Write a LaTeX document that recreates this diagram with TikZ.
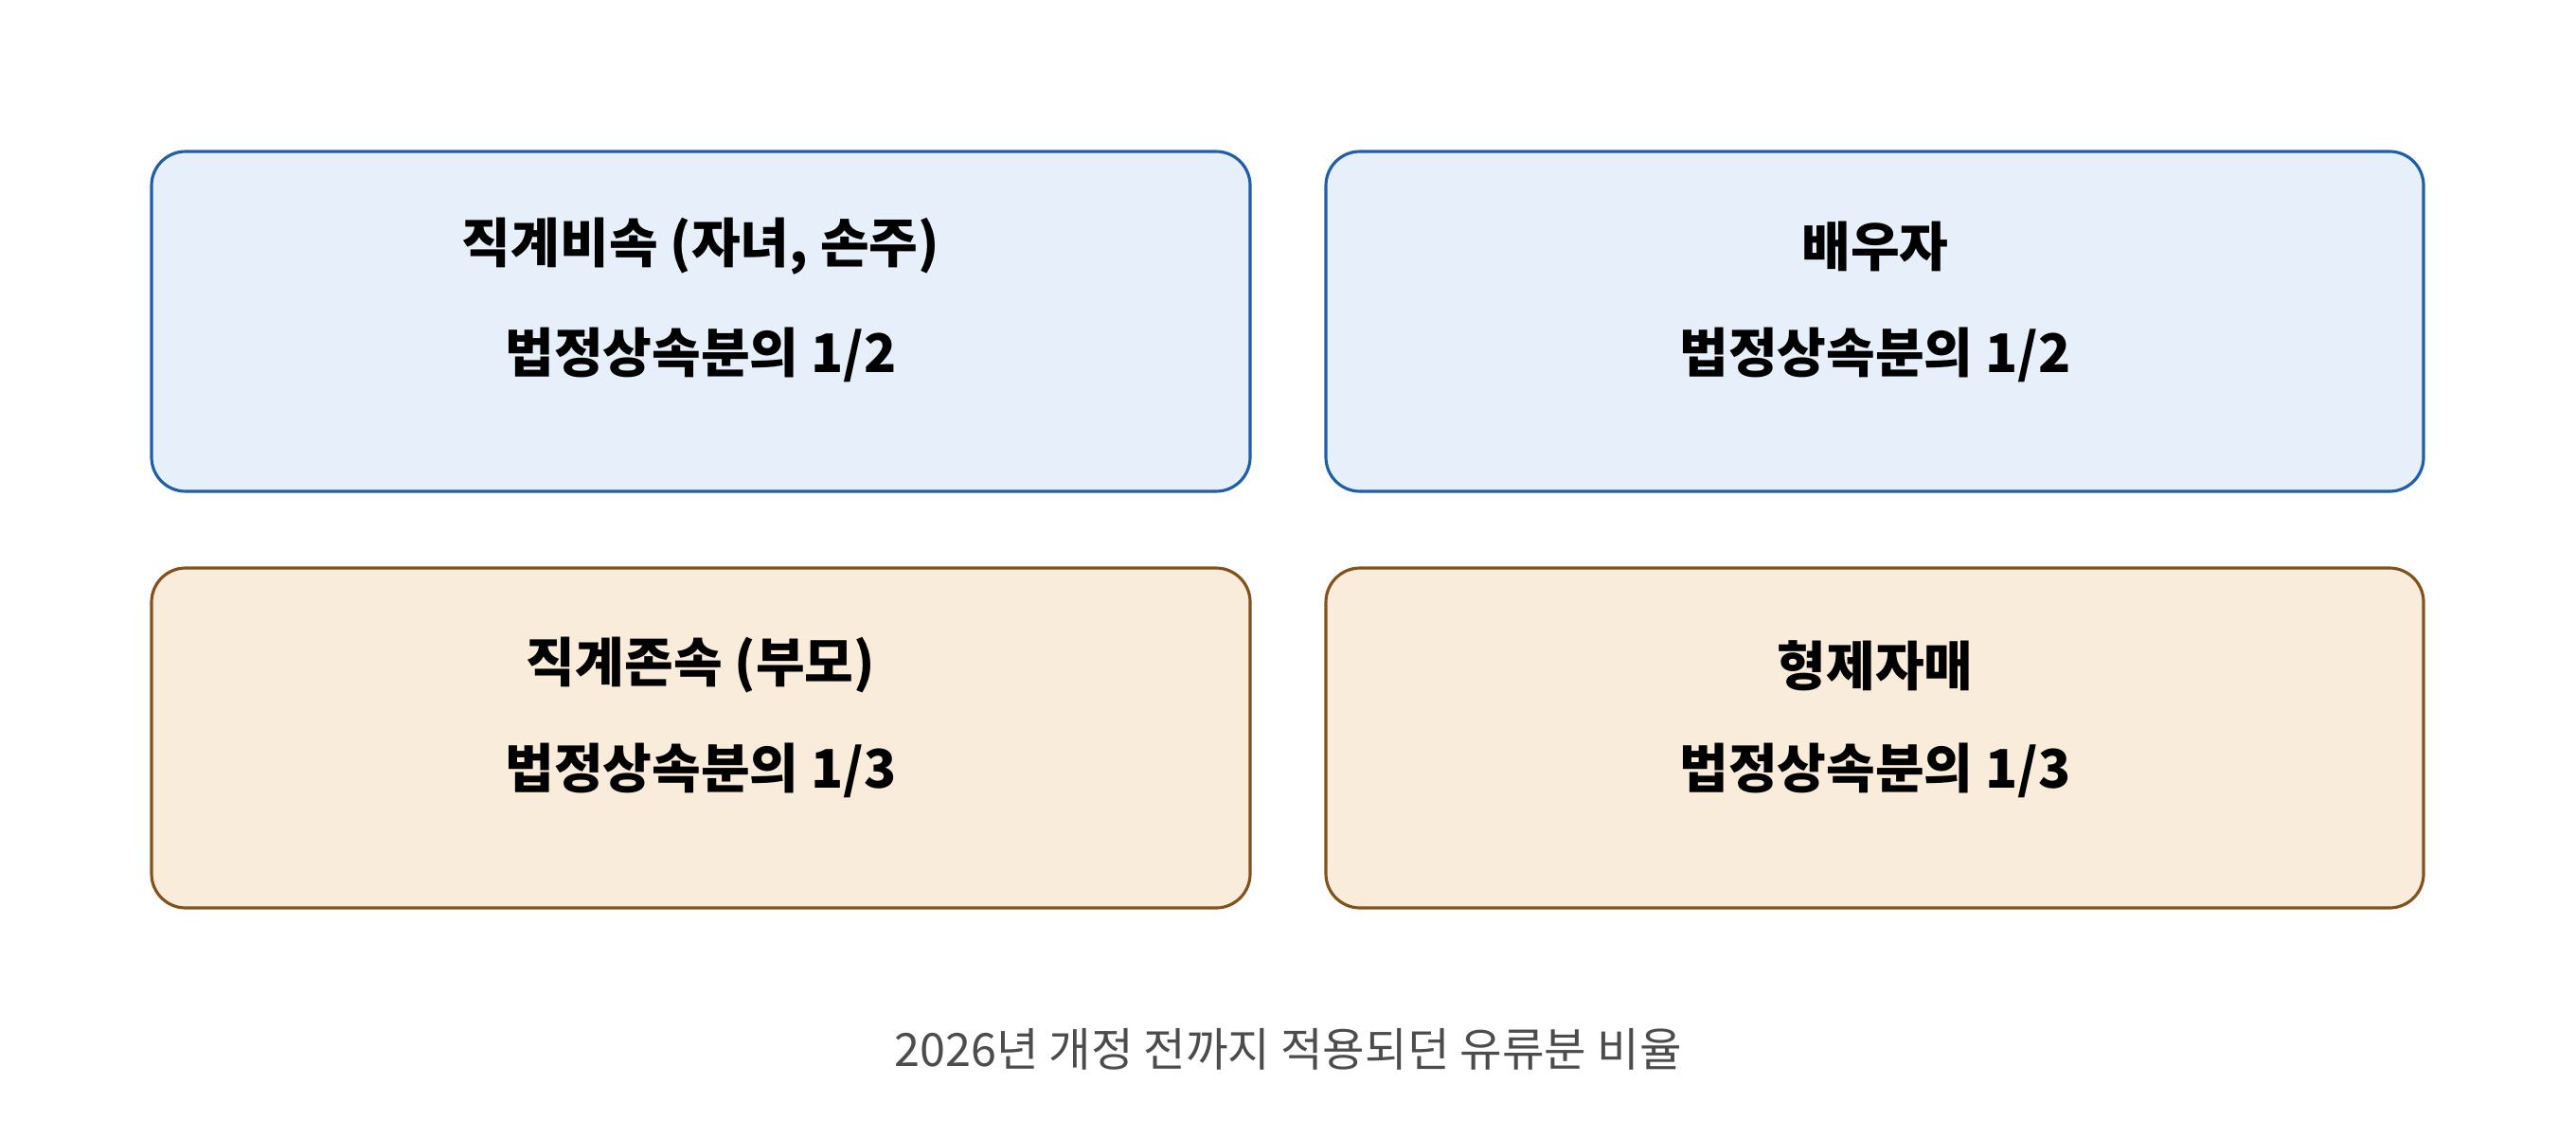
\documentclass[tikz,border=0pt]{standalone}
\usepackage{fontspec}
\setmainfont{Noto Sans CJK KR}
\definecolor{bfill}{HTML}{E7F0FA}
\definecolor{bdraw}{HTML}{1F5FAA}
\definecolor{ofill}{HTML}{FAECDA}
\definecolor{odraw}{HTML}{84511A}
\begin{document}
\begin{tikzpicture}[x=1cm,y=1cm,
  box/.style={rounded corners=0.36cm,line width=0.9pt},
  bb/.style={box,fill=bfill,draw=bdraw},
  ob/.style={box,fill=ofill,draw=odraw},
  lbl/.style={font=\fontsize{16}{19}\selectfont\bfseries,text=black},
  captxt/.style={font=\fontsize{13.8}{16}\selectfont,text=black!70}]
\useasboundingbox (0,0) rectangle (27.2,12);
\draw[bb] (1.60,10.40) rectangle (13.20,6.81);
\draw[bb] (14.00,10.40) rectangle (25.59,6.81);
\draw[ob] (1.60,6.00) rectangle (13.20,2.41);
\draw[ob] (14.00,6.00) rectangle (25.59,2.41);
\node[lbl] (a1) at (7.40,9.40) {직계비속 (자녀, 손주)};
\node[lbl] (a2) at (7.40,8.25) {법정상속분의 1/2};
\node[lbl] (b1) at (19.80,9.40) {배우자};
\node[lbl] (b2) at (19.80,8.25) {법정상속분의 1/2};
\node[lbl] (c1) at (7.40,4.97) {직계존속 (부모)};
\node[lbl] (c2) at (7.40,3.86) {법정상속분의 1/3};
\node[lbl] (d1) at (19.80,4.97) {형제자매};
\node[lbl] (d2) at (19.80,3.86) {법정상속분의 1/3};
\node[captxt] (cp) at (13.60,0.92) {2026년 개정 전까지 적용되던 유류분 비율};
\end{tikzpicture}
\end{document}
